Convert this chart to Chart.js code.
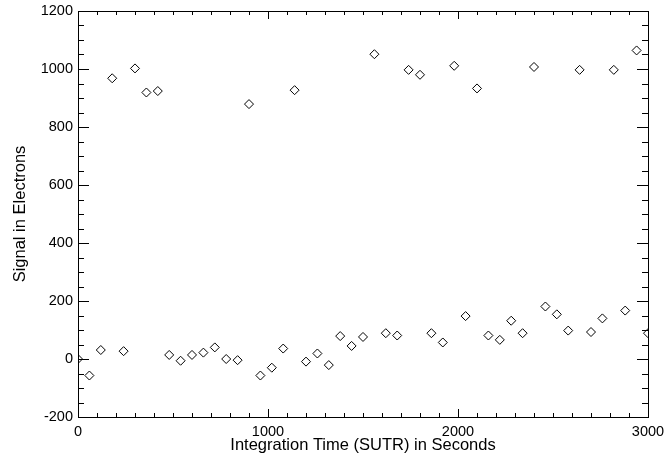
<!DOCTYPE html>
<html>
<head>
<meta charset="utf-8">
<script src="https://cdn.jsdelivr.net/npm/chart.js@4/dist/chart.umd.min.js"></script>
<style>
  body { margin: 0; background: #fff; }
</style>
</head>
<body>
<canvas id="myChart" width="667" height="463"></canvas>
<script>
// integration time in seconds (one frame every 60 s)
var times = [0, 60, 120, 180, 240, 300, 360, 420, 480, 540, 600, 660, 720, 780, 840, 900,
  960, 1020, 1080, 1140, 1200, 1260, 1320, 1380, 1440, 1500, 1560, 1620, 1680, 1740, 1800,
  1860, 1920, 1980, 2040, 2100, 2160, 2220, 2280, 2340, 2400, 2460, 2520, 2580, 2640, 2700,
  2760, 2820, 2880, 2940, 3000];
// signal in electrons
var signal = [0, -57, 31, 968, 27, 1002, 919, 924, 14, -6, 14, 22, 40, 0, -4, 879,
  -57, -30, 36, 927, -9, 19, -21, 79, 45, 76, 1051, 89, 81, 997, 980,
  89, 57, 1011, 148, 933, 81, 66, 132, 89, 1007, 181, 154, 98, 997, 93,
  140, 997, 167, 1064, 89];
var xTickLabels = [0, 1000, 2000, 3000];
var yTickLabels = [-200, 0, 200, 400, 600, 800, 1000, 1200];

var fontName = "'Liberation Sans', Arial, Helvetica, sans-serif";
myChart = undefined;

// box round the plot with small ticks pointing inwards on all four sides
var frameTicks = {
  id: 'frameTicks',
  afterDraw: function (chart) {
    let ctx = chart.ctx;
    let a = chart.chartArea;
    let xs = chart.scales.x;
    let ys = chart.scales.y;
    ctx.save();
    ctx.strokeStyle = '#000';
    ctx.lineWidth = 1;
    ctx.strokeRect(Math.round(a.left) + 0.5, Math.round(a.top) + 0.5,
      Math.round(a.right - a.left), Math.round(a.bottom - a.top));
    ctx.beginPath();
    for (let v = xs.min; v <= xs.max; v += 100) {
      let px = Math.round(xs.getPixelForValue(v)) + 0.5;
      let len = (v % 1000 === 0) ? 8 : 4;
      ctx.moveTo(px, a.bottom);
      ctx.lineTo(px, a.bottom - len);
      ctx.moveTo(px, a.top);
      ctx.lineTo(px, a.top + len);
    }
    for (let v = ys.min; v <= ys.max; v += 50) {
      let py = Math.round(ys.getPixelForValue(v)) + 0.5;
      let len = (v % 200 === 0) ? 11 : 6;
      ctx.moveTo(a.left, py);
      ctx.lineTo(a.left + len, py);
      ctx.moveTo(a.right, py);
      ctx.lineTo(a.right - len, py);
    }
    ctx.stroke();
    ctx.restore();
  }
};

function plainLabel(value) {
  return String(value);
}

// fixed scale sizes, no extra room for labels that hang over the plot edge
function fixSize(scale, w, h) {
  if (w) scale.width = w;
  if (h) scale.height = h;
  scale.paddingLeft = 0;
  scale.paddingRight = 0;
  scale.paddingTop = 0;
  scale.paddingBottom = 0;
}

function loadChart() {
  let points = [];
  for (let i in times) {
    points.push({ x: times[i], y: signal[i] });
  }

  let canvas = document.getElementById('myChart');
  myChart = new Chart(canvas, {
    type: 'scatter',
    data: {
      datasets: [{
        label: 'Signal',
        data: points,
        pointStyle: 'rectRot',
        pointRadius: 4.5,
        pointHoverRadius: 4.5,
        pointBorderWidth: 1,
        pointBorderColor: '#000',
        pointBackgroundColor: 'rgba(0,0,0,0)',
        clip: 0
      }]
    },
    options: {
      responsive: false,
      animation: false,
      layout: { padding: { left: 0, top: 11, right: 19, bottom: 0 } },
      plugins: {
        legend: { display: false },
        tooltip: { enabled: false }
      },
      scales: {
        x: {
          type: 'linear',
          min: 0,
          max: 3000,
          grid: { display: false, drawTicks: false },
          border: { display: false },
          afterBuildTicks: function (scale) {
            scale.ticks = xTickLabels.map(function (v) { return { value: v }; });
          },
          afterFit: function (scale) { fixSize(scale, 0, 46); },
          ticks: {
            color: '#000',
            padding: 6,
            maxRotation: 0,
            autoSkip: false,
            callback: plainLabel,
            font: { family: fontName, size: 14.5 }
          },
          title: {
            display: true,
            text: 'Integration Time (SUTR) in Seconds',
            color: '#000',
            padding: { top: 0, bottom: 8 },
            font: { family: fontName, size: 16.5 }
          }
        },
        y: {
          type: 'linear',
          min: -200,
          max: 1200,
          grid: { display: false, drawTicks: false },
          border: { display: false },
          afterBuildTicks: function (scale) {
            scale.ticks = yTickLabels.map(function (v) { return { value: v }; });
          },
          afterFit: function (scale) { fixSize(scale, 78, 0); },
          ticks: {
            color: '#000',
            padding: 5,
            autoSkip: false,
            callback: plainLabel,
            font: { family: fontName, size: 14.5 }
          },
          title: {
            display: true,
            text: 'Signal in Electrons',
            color: '#000',
            padding: { top: 11, bottom: 0 },
            font: { family: fontName, size: 16.5 }
          }
        }
      }
    },
    plugins: [frameTicks]
  });
}

loadChart();
</script>
</body>
</html>
